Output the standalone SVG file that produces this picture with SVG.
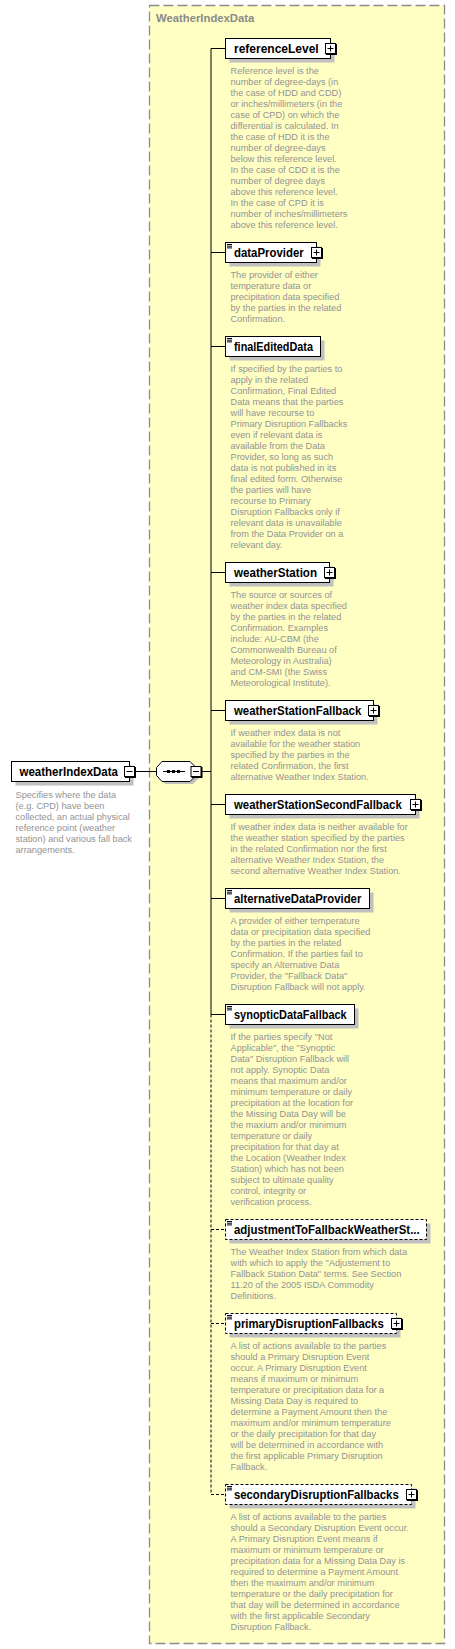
<svg xmlns="http://www.w3.org/2000/svg" width="455" height="1649" viewBox="0 0 455 1649">
<style>
.bg{fill:#ffffff}
.cont{fill:#ffffc4;stroke:#8c8c8c;stroke-width:1.3;stroke-dasharray:10,4}
.ctitle{font-family:"Liberation Sans",Arial,sans-serif;font-weight:bold;font-size:11.3px;fill:#8a8a8a}
.box{fill:#ffffff;stroke:#000000;stroke-width:1}
.dbox{fill:#ffffff;stroke:#000000;stroke-width:1;stroke-dasharray:3,2}
.shd{fill:#c0c0c0}
.lbl{font-family:"Liberation Sans",Arial,sans-serif;font-weight:bold;font-size:12px;fill:#000000}
.desc{font-family:"Liberation Sans",Arial,sans-serif;font-size:9.2px;fill:#939393}
.ln{stroke:#000000;stroke-width:1;fill:none}
.dln{stroke:#000000;stroke-width:1;fill:none;stroke-dasharray:3,2}
.doc{stroke:#000000;stroke-width:1;fill:none}
.ic{fill:#ffffff;stroke:#000000;stroke-width:1}
.icb{fill:#000000}
</style>
<defs>
<g id="plus">
<rect class="icb" x="-4.5" y="-4.5" width="11" height="11"/>
<rect class="ic" x="-5" y="-5" width="10" height="10"/>
<path class="ln" d="M-3,0H3M0,-3V3"/>
</g>
<g id="minus">
<rect class="icb" x="-4.5" y="-4.5" width="11" height="11"/>
<rect class="ic" x="-5" y="-5" width="10" height="10"/>
<path class="ln" d="M-3,0H3"/>
</g>
<path id="docmark" class="doc" d="M0,0H5M0,1.7H5M0,3.4H5"/>
</defs>
<rect class="bg" x="0" y="0" width="455" height="1649"/>

<g id="container">
<rect class="cont" x="149.5" y="5.5" width="295" height="1638"/>
<text class="ctitle" x="156" y="22">WeatherIndexData</text>
</g>

<g id="connectors">
<path class="ln" d="M135,771.5H156"/>
<path class="ln" d="M201,771.5H211"/>
<path class="ln" d="M211,48.5V1014.5"/>
<path class="dln" d="M211,1014.5V1494.5"/>
<path class="ln" d="M211,48.5H225.5"/>
<path class="ln" d="M211,252.5H225.5"/>
<path class="ln" d="M211,346.5H225.5"/>
<path class="ln" d="M211,572.5H225.5"/>
<path class="ln" d="M211,710.5H225.5"/>
<path class="ln" d="M211,804.5H225.5"/>
<path class="ln" d="M211,898.5H225.5"/>
<path class="ln" d="M211,1014.5H225.5"/>
<path class="dln" d="M211,1229.5H225.5"/>
<path class="dln" d="M211,1323.5H225.5"/>
<path class="dln" d="M211,1494.5H225.5"/>
</g>

<g id="weatherIndexData">
<rect class="shd" x="15.5" y="765.5" width="118" height="20"/>
<rect class="box" x="11.5" y="761.5" width="118" height="20"/>
<text class="lbl" x="19.5" y="776" textLength="98.5" lengthAdjust="spacingAndGlyphs">weatherIndexData</text>
<use href="#minus" x="129.5" y="771.5"/>
<text class="desc"><tspan x="15.5" y="797.5">Specifies where the data</tspan><tspan x="15.5" y="808.5">(e.g. CPD) have been</tspan><tspan x="15.5" y="819.5">collected, an actual physical</tspan><tspan x="15.5" y="830.5">reference point (weather</tspan><tspan x="15.5" y="841.5">station) and various fall back</tspan><tspan x="15.5" y="852.5">arrangements.</tspan></text>
</g>

<g id="sequence">
<polygon class="shd" points="165,764 193,764 199,770 199,778 193,784 165,784 159,778 159,770"/>
<polygon class="box" points="162,761.5 190,761.5 196,767.5 196,775.5 190,781.5 162,781.5 156.5,775.5 156.5,767.5"/>
<path class="ln" d="M163,771.5H185"/>
<rect class="icb" x="167" y="770" width="3" height="3"/>
<rect class="icb" x="172" y="770" width="3" height="3"/>
<rect class="icb" x="177" y="770" width="3" height="3"/>
<use href="#minus" x="196" y="771.5"/>
</g>

<g id="referenceLevel">
<rect class="shd" x="229.5" y="42.5" width="105" height="20"/>
<rect class="box" x="225.5" y="38.5" width="105" height="20"/>
<text class="lbl" x="234" y="52.5" textLength="84.7" lengthAdjust="spacingAndGlyphs">referenceLevel</text>
<use href="#plus" x="330.5" y="48.5"/>
<text class="desc"><tspan x="230.5" y="74">Reference level is the</tspan><tspan x="230.5" y="85">number of degree-days (in</tspan><tspan x="230.5" y="96">the case of HDD and CDD)</tspan><tspan x="230.5" y="107">or inches/millimeters (in the</tspan><tspan x="230.5" y="118">case of CPD) on which the</tspan><tspan x="230.5" y="129">differential is calculated. In</tspan><tspan x="230.5" y="140">the case of HDD it is the</tspan><tspan x="230.5" y="151">number of degree-days</tspan><tspan x="230.5" y="162">below this reference level.</tspan><tspan x="230.5" y="173">In the case of CDD it is the</tspan><tspan x="230.5" y="184">number of degree days</tspan><tspan x="230.5" y="195">above this reference level.</tspan><tspan x="230.5" y="206">In the case of CPD it is</tspan><tspan x="230.5" y="217">number of inches/millimeters</tspan><tspan x="230.5" y="228">above this reference level.</tspan></text>
</g>

<g id="dataProvider">
<rect class="shd" x="229.5" y="246.5" width="91" height="20"/>
<rect class="box" x="225.5" y="242.5" width="91" height="20"/>
<use href="#docmark" x="227" y="244.5"/>
<text class="lbl" x="234" y="256.5" textLength="69.7" lengthAdjust="spacingAndGlyphs">dataProvider</text>
<use href="#plus" x="316.5" y="252.5"/>
<text class="desc"><tspan x="230.5" y="278">The provider of either</tspan><tspan x="230.5" y="289">temperature data or</tspan><tspan x="230.5" y="300">precipitation data specified</tspan><tspan x="230.5" y="311">by the parties in the related</tspan><tspan x="230.5" y="322">Confirmation.</tspan></text>
</g>

<g id="finalEditedData">
<rect class="shd" x="229.5" y="340.5" width="95" height="20"/>
<rect class="box" x="225.5" y="336.5" width="95" height="20"/>
<use href="#docmark" x="227" y="338.5"/>
<text class="lbl" x="234" y="350.5" textLength="79" lengthAdjust="spacingAndGlyphs">finalEditedData</text>
<text class="desc"><tspan x="230.5" y="372">If specified by the parties to</tspan><tspan x="230.5" y="383">apply in the related</tspan><tspan x="230.5" y="394">Confirmation, Final Edited</tspan><tspan x="230.5" y="405">Data means that the parties</tspan><tspan x="230.5" y="416">will have recourse to</tspan><tspan x="230.5" y="427">Primary Disruption Fallbacks</tspan><tspan x="230.5" y="438">even if relevant data is</tspan><tspan x="230.5" y="449">available from the Data</tspan><tspan x="230.5" y="460">Provider, so long as such</tspan><tspan x="230.5" y="471">data is not published in its</tspan><tspan x="230.5" y="482">final edited form. Otherwise</tspan><tspan x="230.5" y="493">the parties will have</tspan><tspan x="230.5" y="504">recourse to Primary</tspan><tspan x="230.5" y="515">Disruption Fallbacks only if</tspan><tspan x="230.5" y="526">relevant data is unavailable</tspan><tspan x="230.5" y="537">from the Data Provider on a</tspan><tspan x="230.5" y="548">relevant day.</tspan></text>
</g>

<g id="weatherStation">
<rect class="shd" x="229.5" y="566.5" width="104" height="20"/>
<rect class="box" x="225.5" y="562.5" width="104" height="20"/>
<text class="lbl" x="234" y="576.5" textLength="83" lengthAdjust="spacingAndGlyphs">weatherStation</text>
<use href="#plus" x="329.5" y="572.5"/>
<text class="desc"><tspan x="230.5" y="598">The source or sources of</tspan><tspan x="230.5" y="609">weather index data specified</tspan><tspan x="230.5" y="620">by the parties in the related</tspan><tspan x="230.5" y="631">Confirmation. Examples</tspan><tspan x="230.5" y="642">include: AU-CBM (the</tspan><tspan x="230.5" y="653">Commonwealth Bureau of</tspan><tspan x="230.5" y="664">Meteorology in Australia)</tspan><tspan x="230.5" y="675">and CM-SMI (the Swiss</tspan><tspan x="230.5" y="686">Meteorological Institute).</tspan></text>
</g>

<g id="weatherStationFallback">
<rect class="shd" x="229.5" y="704.5" width="148" height="20"/>
<rect class="box" x="225.5" y="700.5" width="148" height="20"/>
<text class="lbl" x="234" y="714.5" textLength="127.3" lengthAdjust="spacingAndGlyphs">weatherStationFallback</text>
<use href="#plus" x="373.5" y="710.5"/>
<text class="desc"><tspan x="230.5" y="736">If weather index data is not</tspan><tspan x="230.5" y="747">available for the weather station</tspan><tspan x="230.5" y="758">specified by the parties in the</tspan><tspan x="230.5" y="769">related Confirmation, the first</tspan><tspan x="230.5" y="780">alternative Weather Index Station.</tspan></text>
</g>

<g id="weatherStationSecondFallback">
<rect class="shd" x="229.5" y="798.5" width="190" height="20"/>
<rect class="box" x="225.5" y="794.5" width="190" height="20"/>
<text class="lbl" x="234" y="808.5" textLength="167.7" lengthAdjust="spacingAndGlyphs">weatherStationSecondFallback</text>
<use href="#plus" x="415.5" y="804.5"/>
<text class="desc"><tspan x="230.5" y="830">If weather index data is neither available for</tspan><tspan x="230.5" y="841">the weather station specified by the parties</tspan><tspan x="230.5" y="852">in the related Confirmation nor the first</tspan><tspan x="230.5" y="863">alternative Weather Index Station, the</tspan><tspan x="230.5" y="874">second alternative Weather Index Station.</tspan></text>
</g>

<g id="alternativeDataProvider">
<rect class="shd" x="229.5" y="892.5" width="144" height="20"/>
<rect class="box" x="225.5" y="888.5" width="144" height="20"/>
<use href="#docmark" x="227" y="890.5"/>
<text class="lbl" x="234" y="902.5" textLength="127.3" lengthAdjust="spacingAndGlyphs">alternativeDataProvider</text>
<text class="desc"><tspan x="230.5" y="924">A provider of either temperature</tspan><tspan x="230.5" y="935">data or precipitation data specified</tspan><tspan x="230.5" y="946">by the parties in the related</tspan><tspan x="230.5" y="957">Confirmation. If the parties fail to</tspan><tspan x="230.5" y="968">specify an Alternative Data</tspan><tspan x="230.5" y="979">Provider, the "Fallback Data"</tspan><tspan x="230.5" y="990">Disruption Fallback will not apply.</tspan></text>
</g>

<g id="synopticDataFallback">
<rect class="shd" x="229.5" y="1008.5" width="129" height="20"/>
<rect class="box" x="225.5" y="1004.5" width="129" height="20"/>
<use href="#docmark" x="227" y="1006.5"/>
<text class="lbl" x="234" y="1018.5" textLength="112.7" lengthAdjust="spacingAndGlyphs">synopticDataFallback</text>
<text class="desc"><tspan x="230.5" y="1040">If the parties specify "Not</tspan><tspan x="230.5" y="1051">Applicable", the "Synoptic</tspan><tspan x="230.5" y="1062">Data" Disruption Fallback will</tspan><tspan x="230.5" y="1073">not apply. Synoptic Data</tspan><tspan x="230.5" y="1084">means that maximum and/or</tspan><tspan x="230.5" y="1095">minimum temperature or daily</tspan><tspan x="230.5" y="1106">precipitation at the location for</tspan><tspan x="230.5" y="1117">the Missing Data Day will be</tspan><tspan x="230.5" y="1128">the maxium and/or minimum</tspan><tspan x="230.5" y="1139">temperature or daily</tspan><tspan x="230.5" y="1150">precipitation for that day at</tspan><tspan x="230.5" y="1161">the Location (Weather Index</tspan><tspan x="230.5" y="1172">Station) which has not been</tspan><tspan x="230.5" y="1183">subject to ultimate quality</tspan><tspan x="230.5" y="1194">control, integrity or</tspan><tspan x="230.5" y="1205">verification process.</tspan></text>
</g>

<g id="adjustmentToFallbackWeatherStation">
<rect class="shd" x="229.5" y="1223.5" width="201" height="20"/>
<rect class="dbox" x="225.5" y="1219.5" width="201" height="20"/>
<use href="#docmark" x="227" y="1221.5"/>
<text class="lbl" x="234" y="1233.5" textLength="185.7" lengthAdjust="spacingAndGlyphs">adjustmentToFallbackWeatherSt...</text>
<text class="desc"><tspan x="230.5" y="1255">The Weather Index Station from which data</tspan><tspan x="230.5" y="1266">with which to apply the "Adjustement to</tspan><tspan x="230.5" y="1277">Fallback Station Data" terms. See Section</tspan><tspan x="230.5" y="1288">11.20 of the 2005 ISDA Commodity</tspan><tspan x="230.5" y="1299">Definitions.</tspan></text>
</g>

<g id="primaryDisruptionFallbacks">
<rect class="shd" x="229.5" y="1317.5" width="171" height="20"/>
<rect class="dbox" x="225.5" y="1313.5" width="171" height="20"/>
<use href="#docmark" x="227" y="1315.5"/>
<text class="lbl" x="234" y="1327.5" textLength="149.7" lengthAdjust="spacingAndGlyphs">primaryDisruptionFallbacks</text>
<use href="#plus" x="396.5" y="1323.5"/>
<text class="desc"><tspan x="230.5" y="1349">A list of actions available to the parties</tspan><tspan x="230.5" y="1360">should a Primary Disruption Event</tspan><tspan x="230.5" y="1371">occur. A Primary Disruption Event</tspan><tspan x="230.5" y="1382">means if maximum or minimum</tspan><tspan x="230.5" y="1393">temperature or precipitation data for a</tspan><tspan x="230.5" y="1404">Missing Data Day is required to</tspan><tspan x="230.5" y="1415">determine a Payment Amount then the</tspan><tspan x="230.5" y="1426">maximum and/or minimum temperature</tspan><tspan x="230.5" y="1437">or the daily precipitation for that day</tspan><tspan x="230.5" y="1448">will be determined in accordance with</tspan><tspan x="230.5" y="1459">the first applicable Primary Disruption</tspan><tspan x="230.5" y="1470">Fallback.</tspan></text>
</g>

<g id="secondaryDisruptionFallbacks">
<rect class="shd" x="229.5" y="1488.5" width="186" height="20"/>
<rect class="dbox" x="225.5" y="1484.5" width="186" height="20"/>
<use href="#docmark" x="227" y="1486.5"/>
<text class="lbl" x="234" y="1498.5" textLength="164.7" lengthAdjust="spacingAndGlyphs">secondaryDisruptionFallbacks</text>
<use href="#plus" x="411.5" y="1494.5"/>
<text class="desc"><tspan x="230.5" y="1520">A list of actions available to the parties</tspan><tspan x="230.5" y="1531">should a Secondary Disruption Event occur.</tspan><tspan x="230.5" y="1542">A Primary Disruption Event means if</tspan><tspan x="230.5" y="1553">maximum or minimum temperature or</tspan><tspan x="230.5" y="1564">precipitation data for a Missing Data Day is</tspan><tspan x="230.5" y="1575">required to determine a Payment Amount</tspan><tspan x="230.5" y="1586">then the maximum and/or minimum</tspan><tspan x="230.5" y="1597">temperature or the daily precipitation for</tspan><tspan x="230.5" y="1608">that day will be determined in accordance</tspan><tspan x="230.5" y="1619">with the first applicable Secondary</tspan><tspan x="230.5" y="1630">Disruption Fallback.</tspan></text>
</g>
</svg>
